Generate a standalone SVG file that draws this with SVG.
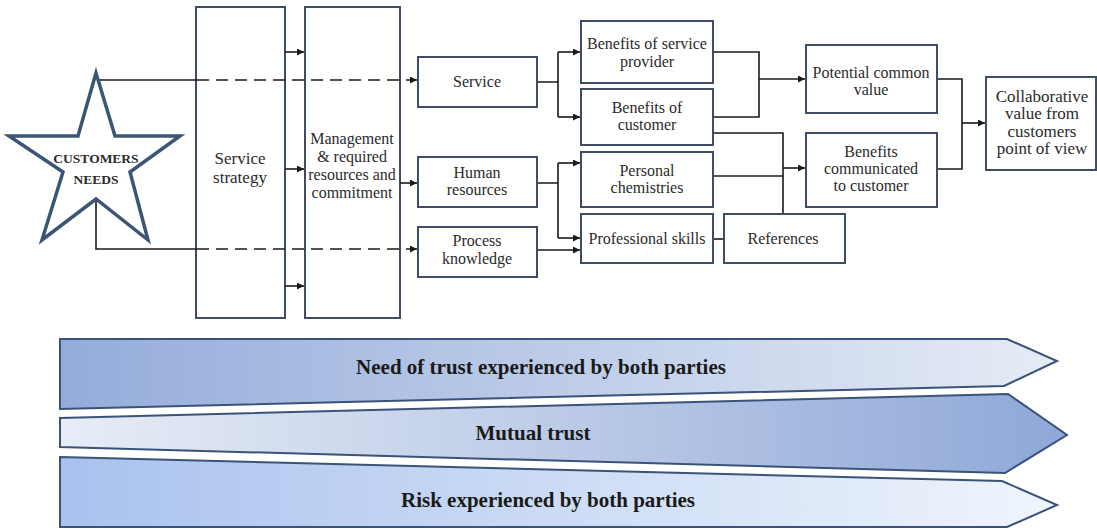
<svg xmlns="http://www.w3.org/2000/svg" width="1097" height="531" viewBox="0 0 1097 531">
  <defs>
    <marker id="arrow" viewBox="0 0 10 10" refX="10" refY="5" markerWidth="9" markerHeight="7" markerUnits="userSpaceOnUse" orient="auto">
      <path d="M0,0 L10,5 L0,10 z" fill="#1a1a1a"/>
    </marker>
    <linearGradient id="gNeed" x1="0" y1="0" x2="1" y2="0">
      <stop offset="0" stop-color="#94acda"/>
      <stop offset="1" stop-color="#e6ecf6"/>
    </linearGradient>
    <linearGradient id="gMutual" x1="0" y1="0" x2="1" y2="0">
      <stop offset="0" stop-color="#e8edf6"/>
      <stop offset="1" stop-color="#8fa8d8"/>
    </linearGradient>
    <linearGradient id="gRisk" x1="0" y1="0" x2="1" y2="0">
      <stop offset="0" stop-color="#a9c2ee"/>
      <stop offset="1" stop-color="#f0f5fc"/>
    </linearGradient>
  </defs>
  <style>
    .box { fill: #ffffff; stroke: #3e4d63; stroke-width: 2; }
    .lbl { font-family: "Liberation Serif", "Times New Roman", serif; font-size: 16px; fill: #2b2b2b; text-anchor: middle; }
    .big { font-size: 17px; }
    .star { fill: #ffffff; stroke: #3b5577; stroke-width: 3.5; stroke-linejoin: miter; }
    .starTxt { font-family: "Liberation Serif", "Times New Roman", serif; font-size: 13.5px; font-weight: bold; fill: #2b2b2b; text-anchor: middle; }
    .wire { fill: none; stroke: #1a1a1a; stroke-width: 1.6; }
    .dash { stroke-dasharray: 12 7; }
    .band { stroke: #3a5378; stroke-width: 2; stroke-linejoin: miter; }
    .bandTxt { font-family: "Liberation Serif", "Times New Roman", serif; font-size: 21px; font-weight: bold; fill: #1a1a1a; text-anchor: middle; }
  </style>

  <rect width="1097" height="531" fill="#ffffff"/>

  <!-- trust bands -->
  <g id="band-need">
    <polygon class="band" fill="url(#gNeed)" points="60,339 1007,339 1057,361 1004,386 60,409"/>
    <text class="bandTxt" x="541" y="374">Need of trust experienced by both parties</text>
  </g>
  <g id="band-mutual">
    <polygon class="band" fill="url(#gMutual)" points="60,418 1008,394 1067,435 1005,473 60,447"/>
    <text class="bandTxt" x="533" y="440">Mutual trust</text>
  </g>
  <g id="band-risk">
    <polygon class="band" fill="url(#gRisk)" points="60,457 1002,481 1057,505 1007,527 60,527"/>
    <text class="bandTxt" x="548" y="507">Risk experienced by both parties</text>
  </g>

  <!-- tall boxes -->
  <g id="service-strategy">
    <rect class="box" x="196" y="7" width="89" height="311"/>
    <text class="lbl big" x="240" y="164">Service</text>
    <text class="lbl big" x="240" y="183">strategy</text>
  </g>
  <g id="management">
    <rect class="box" x="305" y="7" width="95" height="311"/>
    <text class="lbl" x="352" y="144">Management</text>
    <text class="lbl" x="352" y="162">&amp; required</text>
    <text class="lbl" x="352" y="180">resources and</text>
    <text class="lbl" x="352" y="198">commitment</text>
  </g>

  <!-- connectors -->
  <g id="connectors">
    <!-- customer needs: solid start, dashed through the strategy boxes -->
    <path class="wire" d="M96,80 H197"/>
    <path class="wire dash" d="M197,80 H417" marker-end="url(#arrow)"/>
    <path class="wire" d="M96,199 V249 H197"/>
    <path class="wire dash" d="M197,249 H417" marker-end="url(#arrow)"/>
    <!-- strategy to management -->
    <path class="wire" d="M285,52 H304" marker-end="url(#arrow)"/>
    <path class="wire" d="M285,169 H304" marker-end="url(#arrow)"/>
    <path class="wire" d="M285,286 H304" marker-end="url(#arrow)"/>
    <!-- management to human resources -->
    <path class="wire" d="M400,183 H417" marker-end="url(#arrow)"/>
    <!-- service split -->
    <path class="wire" d="M537,82 H558 M558,52 V117"/>
    <path class="wire" d="M558,52 H580" marker-end="url(#arrow)"/>
    <path class="wire" d="M558,117 H580" marker-end="url(#arrow)"/>
    <!-- human resources split -->
    <path class="wire" d="M537,183 H558 M558,163 V238"/>
    <path class="wire" d="M558,163 H580" marker-end="url(#arrow)"/>
    <path class="wire" d="M558,238 H580" marker-end="url(#arrow)"/>
    <!-- process knowledge -->
    <path class="wire" d="M537,250 H580" marker-end="url(#arrow)"/>
    <!-- professional skills to references -->
    <path class="wire" d="M713,239 H724"/>
    <!-- benefits to potential common value -->
    <path class="wire" d="M713,52 H759 V117 H713"/>
    <path class="wire" d="M759,79 H805" marker-end="url(#arrow)"/>
    <!-- customer benefits, chemistries and references to communicated benefits -->
    <path class="wire" d="M713,133 H783 V214"/>
    <path class="wire" d="M713,176 H783"/>
    <path class="wire" d="M783,168 H805" marker-end="url(#arrow)"/>
    <!-- to collaborative value -->
    <path class="wire" d="M937,79 H962 V169 H937"/>
    <path class="wire" d="M962,123 H985" marker-end="url(#arrow)"/>
  </g>

  <!-- star -->
  <g id="customers-needs">
    <polygon class="star" points="96,73 115,136 180,136 130,172 148,240 96,199 42,240 63,172 9,136 78,136"/>
    <text class="starTxt" x="96" y="163">CUSTOMERS</text>
    <text class="starTxt" x="96" y="184">NEEDS</text>
  </g>

  <!-- middle column -->
  <g id="service">
    <rect class="box" x="418" y="57" width="119" height="50"/>
    <text class="lbl" x="477" y="87">Service</text>
  </g>
  <g id="human-resources">
    <rect class="box" x="418" y="157" width="119" height="50"/>
    <text class="lbl" x="477" y="178">Human</text>
    <text class="lbl" x="477" y="195">resources</text>
  </g>
  <g id="process-knowledge">
    <rect class="box" x="418" y="227" width="119" height="50"/>
    <text class="lbl" x="477" y="246">Process</text>
    <text class="lbl" x="477" y="264">knowledge</text>
  </g>

  <!-- benefits column -->
  <g id="benefits-provider">
    <rect class="box" x="581" y="21" width="132" height="62"/>
    <text class="lbl" x="647" y="49">Benefits of service</text>
    <text class="lbl" x="647" y="67">provider</text>
  </g>
  <g id="benefits-customer">
    <rect class="box" x="581" y="89" width="132" height="56"/>
    <text class="lbl" x="647" y="113">Benefits of</text>
    <text class="lbl" x="647" y="130">customer</text>
  </g>
  <g id="personal-chemistries">
    <rect class="box" x="581" y="152" width="132" height="55"/>
    <text class="lbl" x="647" y="176">Personal</text>
    <text class="lbl" x="647" y="193">chemistries</text>
  </g>
  <g id="professional-skills">
    <rect class="box" x="581" y="214" width="132" height="49"/>
    <text class="lbl" x="647" y="244">Professional skills</text>
  </g>
  <g id="references">
    <rect class="box" x="724" y="214" width="121" height="49"/>
    <text class="lbl" x="783" y="244">References</text>
  </g>

  <!-- value column -->
  <g id="potential-value">
    <rect class="box" x="806" y="45" width="131" height="68"/>
    <text class="lbl" x="871" y="78">Potential common</text>
    <text class="lbl" x="871" y="95">value</text>
  </g>
  <g id="benefits-communicated">
    <rect class="box" x="806" y="133" width="131" height="74"/>
    <text class="lbl" x="871" y="157">Benefits</text>
    <text class="lbl" x="871" y="174">communicated</text>
    <text class="lbl" x="871" y="191">to customer</text>
  </g>
  <g id="collaborative-value">
    <rect class="box" x="986" y="77" width="110" height="93"/>
    <text class="lbl big" x="1042" y="102">Collaborative</text>
    <text class="lbl big" x="1042" y="119">value from</text>
    <text class="lbl big" x="1042" y="137">customers</text>
    <text class="lbl big" x="1042" y="154">point of view</text>
  </g>
</svg>
